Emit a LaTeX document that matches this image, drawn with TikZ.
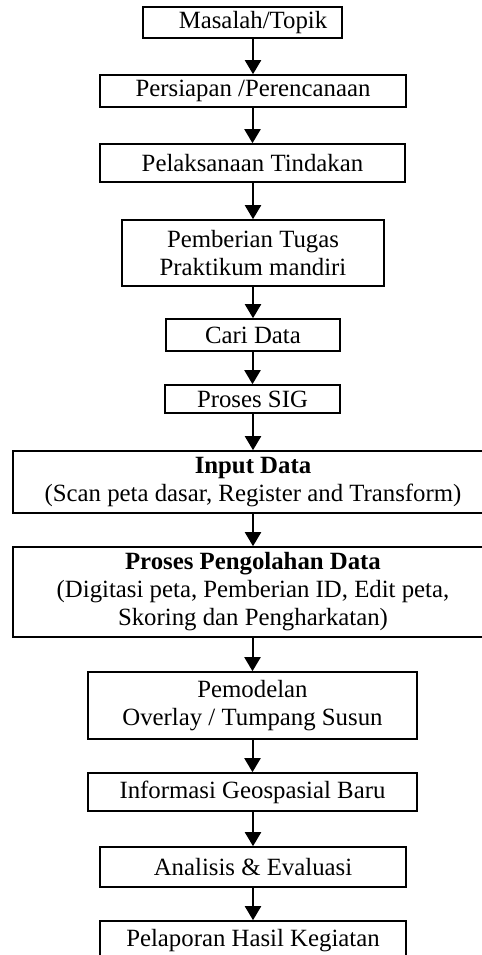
\documentclass[tikz,border=0pt]{standalone}
\usepackage{fontspec}
\setmainfont{Liberation Serif}
\usetikzlibrary{arrows.meta}
\begin{document}
\begin{tikzpicture}[x=0.5pt,y=-0.5pt,
  box/.style={draw, line width=0.8pt, fill=white, align=center, inner sep=0pt,
    font=\fontsize{12.4}{14}\selectfont},
  sz/.style 2 args={minimum width=#1*0.5pt, minimum height=#2*0.5pt},
  flow/.style={line width=1pt, -{Triangle[length=7pt,width=8pt]}}]
  \useasboundingbox (0,0) rectangle (482,955);
  \clip (0,0) rectangle (482,955);
  \fill[white] (0,0) rectangle (482,955);

  % process boxes, top to bottom
  \node[box, sz={199}{31}]  (topik)  at (242.5,22.5) {\hspace*{10.5pt}Masalah/Topik};
  \node[box, sz={306}{32}]  (siap)   at (253,91)     {Persiapan /Perencanaan};
  \node[box, sz={305}{38}]  (laksana) at (252.5,163) {Pelaksanaan Tindakan};
  \node[box, sz={262}{66}]  (tugas)  at (253,253)    {Pemberian Tugas\\Praktikum mandiri};
  \node[box, sz={174}{32}]  (cari)   at (253,335)    {Cari Data};
  \node[box, sz={175}{28}]  (sig)    at (252.5,399)  {Proses SIG};
  \node[box, sz={480}{62}]  (input)  at (253,482)
    {\textbf{Input Data}\\(Scan peta dasar, Register and Transform)};
  \node[box, sz={480}{90}]  (olah)   at (253,592)
    {\textbf{Proses Pengolahan Data}\\(Digitasi peta, Pemberian ID, Edit peta,\\Skoring dan Pengharkatan)};
  \node[box, sz={329}{67}]  (model)  at (252.5,705.5) {Pemodelan\\Overlay / Tumpang Susun};
  \node[box, sz={329}{38}]  (info)   at (252.5,792)  {Informasi Geospasial Baru};
  \node[box, sz={306}{40}]  (analisis) at (253,867)  {Analisis \& Evaluasi};
  \node[box, sz={306}{40}]  (lapor)  at (253,941)    {Pelaporan Hasil Kegiatan};

  % connectors
  \foreach \a/\b in {topik/siap, siap/laksana, laksana/tugas, tugas/cari, cari/sig,
                     sig/input, input/olah, olah/model, model/info, info/analisis,
                     analisis/lapor}
    \draw[flow] (\b.north |- \a.south) -- (\b.north);
\end{tikzpicture}
\end{document}
